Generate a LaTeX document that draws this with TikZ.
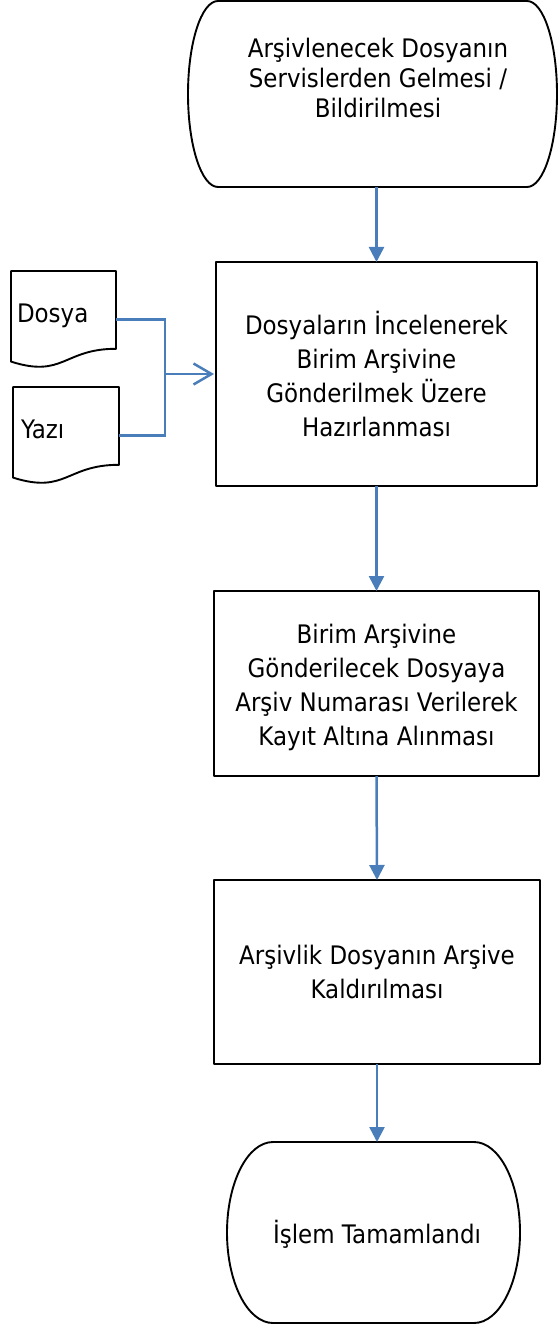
\documentclass[tikz,border=0pt]{standalone}
\usepackage{fontspec}
\setmainfont{DejaVu Sans}[FakeStretch=0.9]
\usetikzlibrary{arrows.meta,calc}
\definecolor{conblue}{RGB}{74,126,187}
\begin{document}
\begin{tikzpicture}[x=1bp,y=-1bp,
  every node/.style={inner sep=0pt, outer sep=0pt},
  outline/.style={draw=black, line width=1.9bp, line join=round},
  procbox/.style={outline, align=center, font=\fontsize{25.5bp}{34bp}\selectfont},
  termtext/.style={align=center, font=\fontsize{25.5bp}{30bp}\selectfont},
  doctext/.style={anchor=base west, font=\fontsize{25.5bp}{30bp}\selectfont},
  feed/.style={draw=conblue, line width=2.5bp},
  flow/.style={feed, -{Triangle[length=15bp,width=15bp]}}]
\useasboundingbox (0,0) rectangle (558,1326);

% shapes (empty frames)
\node[minimum width=369bp, minimum height=186bp] (start) at (372.5,94) {};
\node[minimum width=293bp, minimum height=181bp] (end) at (373.5,1232.5) {};
\node[minimum width=105bp, minimum height=97bp] (dosya) at (63.5,319.5) {};
\node[minimum width=106bp, minimum height=97bp] (yazi) at (66,435.5) {};

% terminator outlines
\draw[outline] ($(start.north west)+(30,0)$) -- ($(start.north east)+(-30,0)$)
  arc[start angle=90,end angle=-90,x radius=30bp,y radius=93bp]
  -- ($(start.south west)+(30,0)$)
  arc[start angle=270,end angle=90,x radius=30bp,y radius=93bp] -- cycle;
\draw[outline] ($(end.north west)+(46,0)$) -- ($(end.north east)+(-46,0)$)
  arc[start angle=90,end angle=-90,x radius=46bp,y radius=90.5bp]
  -- ($(end.south west)+(46,0)$)
  arc[start angle=270,end angle=90,x radius=46bp,y radius=90.5bp] -- cycle;

% document outlines
\draw[outline] (dosya.north west) -- (dosya.north east) -- ($(dosya.north east)+(0,77.8)$)
  .. controls ($(dosya.north east)+(-52.5,77.8)$) and ($(dosya.north east)+(-52.5,107.4)$)
  .. ($(dosya.north west)+(0,90.6)$) -- cycle;
\draw[outline] (yazi.north west) -- (yazi.north east) -- ($(yazi.north east)+(0,77.8)$)
  .. controls ($(yazi.north east)+(-53,77.8)$) and ($(yazi.north east)+(-53,107.4)$)
  .. ($(yazi.north west)+(0,90.6)$) -- cycle;

% texts
\node[termtext] (starttext) at (378,77.5) {Arşivlenecek Dosyanın\\Servislerden Gelmesi /\\Bildirilmesi};
\node[termtext] (endtext) at (377,1234) {İşlem Tamamlandı};
\node[doctext] (dosyatext) at (17,323) {Dosya};
\node[doctext] (yazitext) at (21,438) {Yazı};

% process boxes
\node[procbox, minimum width=321bp, minimum height=224bp] (box1) at (376.5,374)
  {Dosyaların İncelenerek\\Birim Arşivine\\Gönderilmek Üzere\\Hazırlanması};
\node[procbox, minimum width=325bp, minimum height=185bp] (box2) at (376.5,683.5)
  {\rule{0pt}{27bp}Birim Arşivine\\Gönderilecek Dosyaya\\Arşiv Numarası Verilerek\\Kayıt Altına Alınması};
\node[procbox, minimum width=326bp, minimum height=184bp] (box3) at (377,972)
  {Arşivlik Dosyanın Arşive\\Kaldırılması};

% connectors
\coordinate (j) at (165,374);
\draw[feed] (dosya.east) -| (j);
\draw[feed] (yazi.east) -| (j);
\draw[feed, -{Straight Barb[length=18bp,width=21bp]}, shorten >=2bp] (j) -- (box1.west);

\draw[flow] (start.south -| box1.north) -- (box1.north);
\draw[flow] (box1.south) -- (box2.north);
\draw[flow] (box2.south) -- (box3.north);
\draw[flow] (box3.south) -- (box3.south |- end.north);
\end{tikzpicture}
\end{document}
